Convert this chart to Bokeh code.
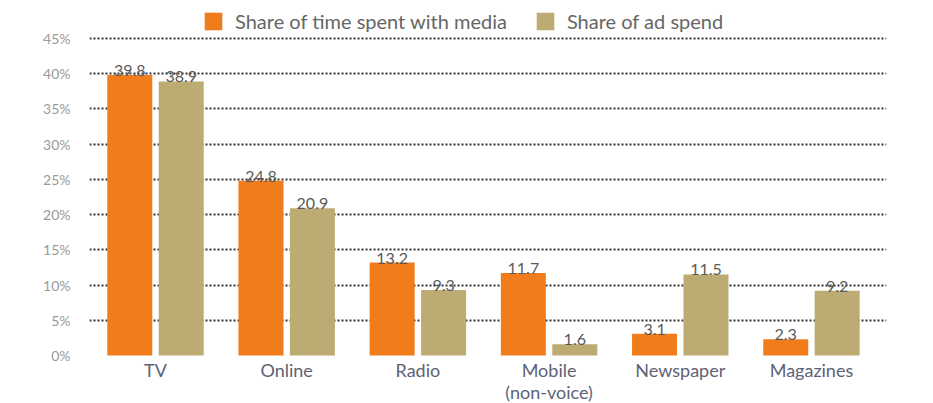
from bokeh.plotting import figure
from bokeh.models import (ColumnDataSource, Range1d, FixedTicker, PrintfTickFormatter,
                          Legend, LegendItem, LabelSet)
from bokeh.core.properties import value
from bokeh.embed import file_html
from bokeh.resources import INLINE

categories = ["TV", "Online", "Radio", "Mobile\n(non-voice)", "Newspaper", "Magazines"]
time_share = [39.8, 24.8, 13.2, 11.7, 3.1, 2.3]
ad_share = [38.9, 20.9, 9.3, 1.6, 11.5, 9.2]
y_ticks = [5, 10, 15, 20, 25, 30, 35, 40, 45]
y_tick_labels = [0, 5, 10, 15, 20, 25, 30, 35, 40, 45]

ORANGE = "#f07c1c"
GOLD = "#bdab74"
FONT = "Lato"

xs = list(range(len(categories)))
off = 0.196
bw = 0.343

src_time = ColumnDataSource(dict(x=[i - off for i in xs], top=time_share,
                                 lbl=[f"{v:.1f}" for v in time_share]))
src_ad = ColumnDataSource(dict(x=[i + off for i in xs], top=ad_share,
                               lbl=[f"{v:.1f}" for v in ad_share]))
src_cat = ColumnDataSource(dict(x=xs, y=[0] * len(xs), text=categories))

p = figure(width=933, height=403, output_backend="svg", toolbar_location=None,
           x_range=Range1d(-0.503, 5.572), y_range=Range1d(-6.81, 50.39),
           min_border_left=89, min_border_right=47, min_border_top=0, min_border_bottom=0)
p.outline_line_color = None
p.background_fill_color = "white"
p.border_fill_color = "white"

r1 = p.vbar(x="x", top="top", width=bw, source=src_time, fill_color=ORANGE, line_color=None)
r2 = p.vbar(x="x", top="top", width=bw, source=src_ad, fill_color=GOLD, line_color=None)

for s in (src_time, src_ad):
    p.add_layout(LabelSet(x="x", y="top", text="lbl", source=s, text_align="center",
                          text_baseline="bottom", y_offset=-1, text_font=value(FONT),
                          text_font_size="16px", text_color="#5a5a5a"))

# category labels under the bars
p.text(x="x", y="y", text="text", source=src_cat, text_align="center",
       text_baseline="top", y_offset=3, text_font=value(FONT), text_font_size="18px",
       text_color="#5d6275", text_line_height=1.0)
p.xaxis.visible = False

# y axis
p.yaxis.ticker = FixedTicker(ticks=y_tick_labels)
p.yaxis.formatter = PrintfTickFormatter(format="%d%%")
p.yaxis.axis_line_color = None
p.yaxis.major_tick_line_color = None
p.yaxis.minor_tick_line_color = None
p.yaxis.major_label_text_font = FONT
p.yaxis.major_label_text_font_size = "14px"
p.yaxis.major_label_text_color = "#9a9a9a"
p.yaxis.major_label_standoff = 13

# grid
p.xgrid.grid_line_color = None
p.ygrid.ticker = FixedTicker(ticks=y_ticks)
p.ygrid.grid_line_color = "#333333"
p.ygrid.grid_line_width = 2
p.ygrid.grid_line_dash = "2 2"

legend = Legend(items=[LegendItem(label="Share of time spent with media", renderers=[r1]),
                       LegendItem(label="Share of ad spend", renderers=[r2])],
                orientation="horizontal", location=(113, 370),
                padding=0, margin=0, spacing=27, label_standoff=11,
                glyph_width=22, glyph_height=22,
                border_line_color=None, background_fill_alpha=0,
                label_text_font=FONT, label_text_font_size="20px",
                label_text_color="#666666")
p.add_layout(legend, "center")

open("out.html", "w").write(file_html(p, INLINE))
